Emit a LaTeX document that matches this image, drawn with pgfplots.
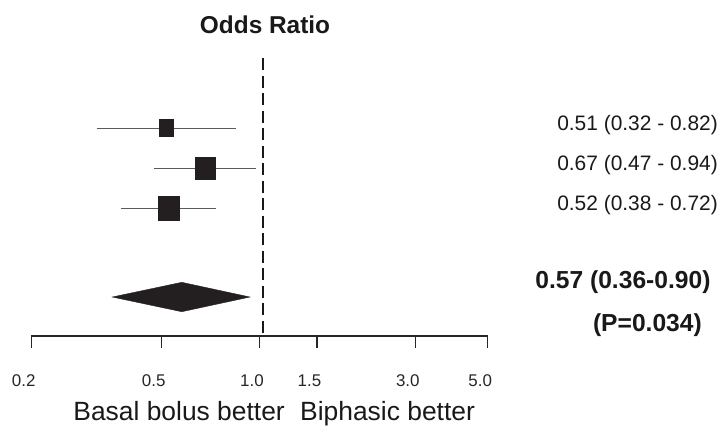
\documentclass[border=0pt]{standalone}
\usepackage{fontspec}
\setmainfont{Liberation Sans}
\usepackage{pgfplots}
\pgfplotsset{compat=1.18}
\definecolor{boxc}{HTML}{231F20}
\definecolor{cic}{HTML}{5A5A5A}
\begin{document}
\begin{tikzpicture}
\begin{axis}[
  scale only axis,
  width=456.4bp, height=296bp,
  xmode=log, xmin=0.2, xmax=5,
  ymin=-336, ymax=-40,
  clip=false,
  axis x line=bottom,
  axis y line=none,
  x axis line style={-, line width=1.3bp, black!85},
  xtick={0.2,0.5,1,1.5,3,5},
  xticklabels={0.2,0.5,1.0,1.5,3.0,5.0},
  minor xtick={},
  xtick align=outside,
  major tick length=11.5bp,
  tick style={line width=1.2bp, black!85},
  /pgf/number format/assume math mode=true,
  xticklabel style={font=\fontsize{17}{19}\selectfont, xshift=-7.5bp, yshift=-24bp, text=black!85},
]
% bounding box of the whole picture (723 x 431)
\path (axis cs:0.1604,-431) rectangle (axis cs:26.28,0);
% reference line
\addplot[black!90, line width=1.6bp, dash pattern=on 12bp off 5.5bp] coordinates {(1.023,-58) (1.023,-334)};
% confidence intervals
\addplot[cic, line width=1bp] coordinates {(0.317,-128) (0.845,-128)};
\addplot[cic, line width=1bp] coordinates {(0.475,-168) (0.974,-168)};
\addplot[cic, line width=1bp] coordinates {(0.376,-208) (0.736,-208)};
% point estimates
\addplot[only marks, mark=square*, mark size=7.2bp, mark options={fill=boxc, draw=boxc, yscale=1.15}] coordinates {(0.518,-127.5)};
\addplot[only marks, mark=square*, mark size=10bp, mark options={fill=boxc, draw=boxc, yscale=1.13}] coordinates {(0.681,-168)};
\addplot[only marks, mark=square*, mark size=10.4bp, mark options={fill=boxc, draw=boxc, yscale=1.15}] coordinates {(0.527,-208)};
% pooled estimate
\addplot[fill=boxc, draw=boxc] coordinates {(0.354,-297) (0.578,-282.3) (0.935,-297) (0.578,-311.7)} -- cycle;
% texts
\node[anchor=base, inner sep=0, font=\bfseries\fontsize{24.5}{28}\selectfont, text=black!90] at (axis cs:1.040,-33.3) {Odds Ratio};
\node[anchor=base east, inner sep=0, font=\fontsize{21}{24}\selectfont, text=black!90] at (axis cs:25.37,-130.7) {0.51 (0.32 - 0.82)};
\node[anchor=base east, inner sep=0, font=\fontsize{21}{24}\selectfont, text=black!90] at (axis cs:25.37,-170.7) {0.67 (0.47 - 0.94)};
\node[anchor=base east, inner sep=0, font=\fontsize{21}{24}\selectfont, text=black!90] at (axis cs:25.37,-210.7) {0.52 (0.38 - 0.72)};
\node[anchor=base east, inner sep=0, font=\bfseries\fontsize{24.7}{28}\selectfont, text=black!90] at (axis cs:24.10,-288.3) {0.57 (0.36-0.90)};
\node[anchor=base east, inner sep=0, font=\bfseries\fontsize{24.7}{28}\selectfont, text=black!90] at (axis cs:22.66,-331.7) {(P=0.034)};
\node[anchor=base east, inner sep=0, font=\fontsize{26.5}{30}\selectfont, text=black!90] at (axis cs:1.197,-420) {Basal bolus better};
\node[anchor=base west, inner sep=0, font=\fontsize{26.5}{30}\selectfont, text=black!90] at (axis cs:1.331,-420) {Biphasic better};
\end{axis}
\end{tikzpicture}
\end{document}
